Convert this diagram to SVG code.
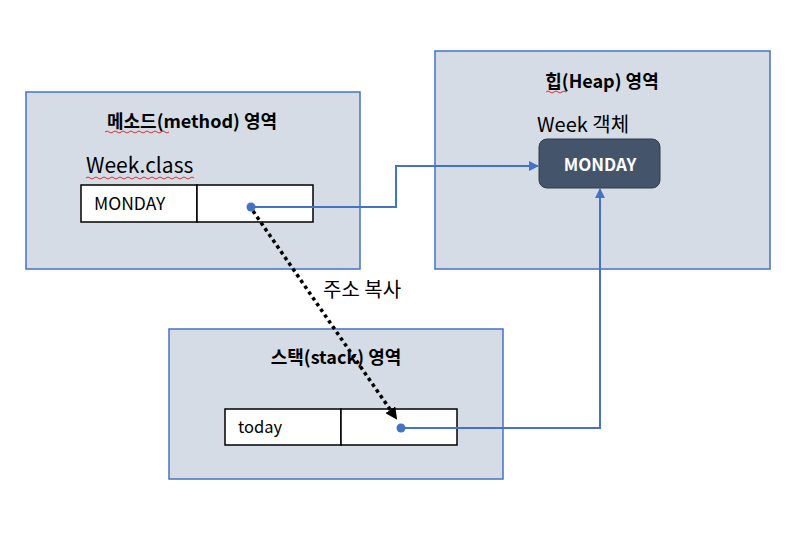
<svg xmlns="http://www.w3.org/2000/svg" width="800" height="550" viewBox="0 0 800 550">
<defs>
<style>
.area{fill:#D6DCE5;stroke:#4472C4;stroke-width:1.5}
.cell{fill:#FFFFFF;stroke:#000000;stroke-width:1.5}
.t{font-family:"Noto Sans CJK KR","Noto Sans",sans-serif;fill:#000}
.title{font-size:18px;font-weight:bold;text-anchor:middle}
.conn{fill:none;stroke:#4472C4;stroke-width:2}
.dot{fill:#4472C4}
.squig{fill:none;stroke:#E03030;stroke-width:1}
</style>
<marker id="arrB" markerWidth="10" markerHeight="10" refX="9" refY="5" orient="auto" markerUnits="userSpaceOnUse">
<path d="M0,0 L10,5 L0,10 Z" fill="#4472C4"/>
</marker>
<marker id="arrK" markerWidth="12" markerHeight="12" refX="10" refY="6" orient="auto" markerUnits="userSpaceOnUse">
<path d="M0,0 L12,6 L0,12 Z" fill="#000"/>
</marker>
</defs>
<rect width="800" height="550" fill="#FFFFFF"/>

<g id="method-area">
<rect class="area" x="26" y="92" width="334" height="177"/>
<text class="t title" x="192" y="128">메소드(method) 영역</text>
<path class="squig" d="M105,132 q2,-2 4,0 t4,0 t4,0 t4,0 t4,0 t4,0 t4,0 t4,0 t4,0 t4,0 t4,0 t4,0 t4,0 t4,0 t4,0 t4,0"/>
<text class="t" x="86" y="173" font-size="21">Week.class</text>
<path class="squig" d="M86,178 q2,-2 4,0 t4,0 t4,0 t4,0 t4,0 t4,0 t4,0 t4,0 t4,0 t4,0 t4,0 t4,0 t4,0 t4,0 t4,0 t4,0 t4,0 t4,0 t4,0 t4,0 t4,0 t4,0 t4,0 t4,0 t4,0 t4,0 t4,0"/>
</g>

<g id="method-table">
<rect class="cell" x="81" y="185" width="116" height="37"/>
<rect class="cell" x="197" y="185" width="116" height="37"/>
<text class="t" x="94" y="210" font-size="17.5">MONDAY</text>
</g>

<g id="heap-area">
<rect class="area" x="435" y="51" width="335" height="218"/>
<text class="t title" x="602" y="88">힙(Heap) 영역</text>
<path class="squig" d="M546,92 q2,-2 4,0 t4,0 t4,0 t4,0 t4,0"/>
<text class="t" x="537" y="132" font-size="20">Week 객체</text>
</g>

<g id="heap-object">
<rect x="539" y="139" width="121" height="49" rx="8" fill="#44546A" stroke="#2F3B4C" stroke-width="1"/>
<text class="t" x="600" y="171" font-size="17" font-weight="bold" style="fill:#FFFFFF" text-anchor="middle">MONDAY</text>
</g>

<g id="stack-area">
<rect class="area" x="169" y="329" width="334" height="150"/>
<text class="t title" x="336" y="364">스택(stack) 영역</text>
</g>

<g id="stack-table">
<rect class="cell" x="225" y="409" width="116" height="36"/>
<rect class="cell" x="341" y="409" width="116" height="36"/>
<text class="t" x="238" y="433" font-size="16.5">today</text>
</g>

<g id="connectors">
<path class="conn" d="M251,207 H396 V166 H538" marker-end="url(#arrB)"/>
<path class="conn" d="M401,428 H600 V189" marker-end="url(#arrB)"/>
<path d="M253,211 L396,418" fill="none" stroke="#000" stroke-width="3.5" stroke-dasharray="3.5 3.5" marker-end="url(#arrK)"/>
<circle class="dot" cx="251" cy="207" r="4.5"/>
<circle class="dot" cx="401" cy="428" r="4.5"/>
<text class="t" x="323" y="297" font-size="20">주소 복사</text>
</g>
</svg>
